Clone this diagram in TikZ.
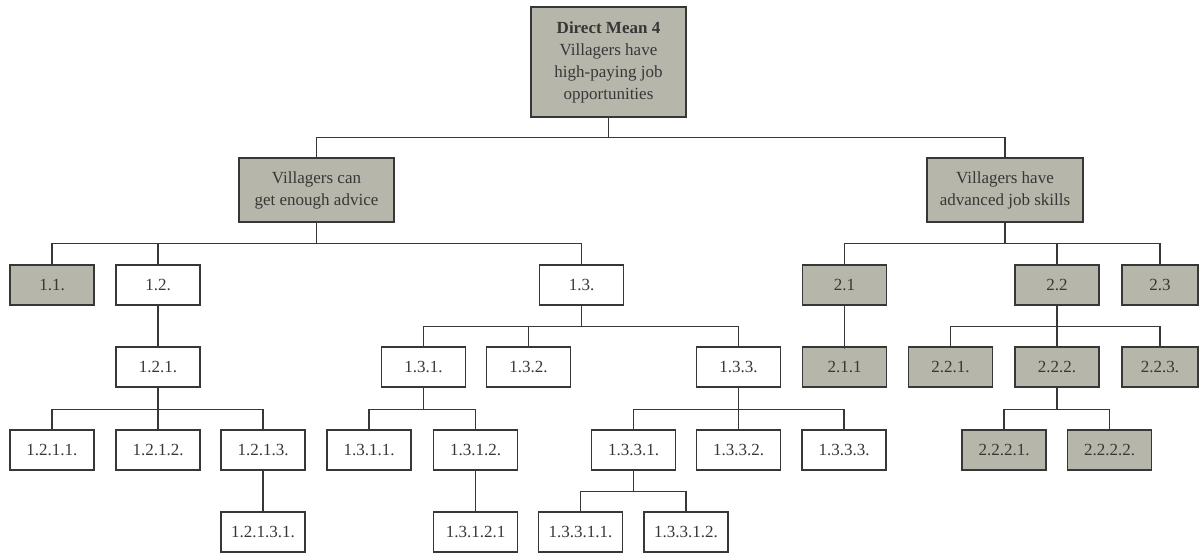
\documentclass[tikz,border=0pt]{standalone}
\usepackage{fontspec}
\setmainfont{Liberation Serif}
\definecolor{shade}{RGB}{182,182,170}
\definecolor{ink}{RGB}{55,55,55}
\tikzset{
  box/.style={draw=ink, line width=1.2pt, minimum width=84pt, minimum height=40pt,
    inner sep=0pt, align=center, text=ink, font=\fontsize{17}{22}\selectfont},
  grey/.style={box, fill=shade},
  link/.style={draw=ink, line width=1.2pt}
}
\begin{document}
\begin{tikzpicture}[x=1pt, y=-1pt]
\useasboundingbox (0,0) rectangle (1200,553);

% top goal and the two main branches
\node[grey, minimum width=155pt, minimum height=110pt] (top) at (608.5,62)
  {\textbf{Direct Mean 4}\\Villagers have\\high-paying job\\opportunities};
\node[grey, minimum width=155pt, minimum height=64pt] (a) at (316.5,190)
  {Villagers can\\get enough advice};
\node[grey, minimum width=156pt, minimum height=64pt] (b) at (1005,190)
  {Villagers have\\advanced job skills};

% second level
\node[grey] (a1) at (52,285) {1.1.};
\node[box]  (a2) at (158,285) {1.2.};
\node[box]  (a3) at (581.5,285) {1.3.};
\node[grey] (b1) at (844.5,285) {2.1};
\node[grey] (b2) at (1057,285) {2.2};
\node[grey, minimum width=76pt] (b3) at (1160,285) {2.3};

% third level
\node[box]  (a21) at (158,367) {1.2.1.};
\node[box]  (a31) at (423.5,367) {1.3.1.};
\node[box]  (a32) at (528.5,367) {1.3.2.};
\node[box]  (a33) at (738.5,367) {1.3.3.};
\node[grey] (b11) at (844.5,367) {2.1.1};
\node[grey] (b21) at (950.5,367) {2.2.1.};
\node[grey] (b22) at (1057,367) {2.2.2.};
\node[grey, minimum width=76pt] (b23) at (1160,367) {2.2.3.};

% fourth level
\node[box]  (a211) at (52,450) {1.2.1.1.};
\node[box]  (a212) at (158,450) {1.2.1.2.};
\node[box]  (a213) at (263,450) {1.2.1.3.};
\node[box]  (a311) at (369,450) {1.3.1.1.};
\node[box]  (a312) at (475.5,450) {1.3.1.2.};
\node[box]  (a331) at (633.5,450) {1.3.3.1.};
\node[box]  (a332) at (738.5,450) {1.3.3.2.};
\node[box]  (a333) at (844,450) {1.3.3.3.};
\node[grey] (b221) at (1004,450) {2.2.2.1.};
\node[grey] (b222) at (1109.5,450) {2.2.2.2.};

% fifth level
\node[box]  (a2131) at (263,532) {1.2.1.3.1.};
\node[box]  (a3121) at (475.5,532) {1.3.1.2.1};
\node[box]  (a3311) at (580.5,532) {1.3.3.1.1.};
\node[box]  (a3312) at (686,532) {1.3.3.1.2.};

% connectors: stem down from the parent, bus across, drop into each child
\foreach \p/\d/\kids in {top/20/{a,b},
                         a/21/{a1,a2,a3},
                         b/21/{b1,b2,b3},
                         a2/42/{a21},
                         a3/21/{a31,a32,a33},
                         b1/43/{b11},
                         b2/21/{b21,b22,b23},
                         a21/22/{a211,a212,a213},
                         a31/22/{a311,a312},
                         a33/22/{a331,a332,a333},
                         b22/22/{b221,b222},
                         a213/42/{a2131},
                         a312/42/{a3121},
                         a331/21/{a3311,a3312}}{
  \foreach \c in \kids {
    \draw[link] (\p.south) -- ++(0,\d) -| (\c.north);
  }
}
\end{tikzpicture}
\end{document}
